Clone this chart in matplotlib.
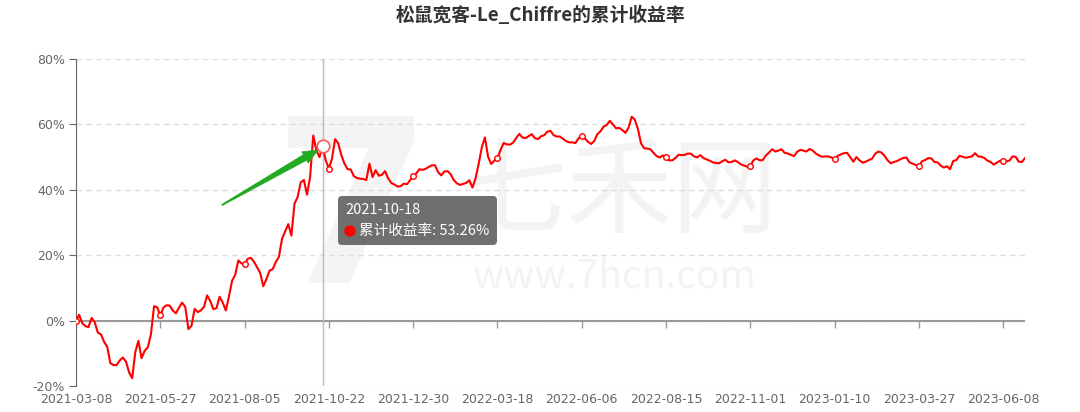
import numpy as np
import matplotlib
matplotlib.use('Agg')
import matplotlib.pyplot as plt
from matplotlib.patches import FancyBboxPatch, Circle, Polygon
from matplotlib.transforms import IdentityTransform

plt.rcParams['font.family'] = ['DejaVu Sans', 'Noto Sans CJK SC']

title = '松鼠宽客-Le_Chiffre的累计收益率'
series_name = '累计收益率'

# cumulative return (%), one reading every 2 trading days from 2021-03-08
step = 2
ret = [
    0, 1.8, -0.8, -1.7, -2.0, 0.8, -0.5, -3.7, -4.2, -6.5,
    -8, -13, -13.6, -13.6, -12.2, -11.3, -12.5, -15.8, -17.6, -9.6,
    -6.2, -11.5, -9.2, -8.2, -4.2, 4.4, 4.1, 1.6, 4.0, 4.7,
    4.6, 3.1, 2.2, 4.0, 5.5, 4.2, -2.6, -1.6, 3.6, 2.6,
    3.1, 4.2, 7.7, 6.0, 3.5, 3.8, 7.3, 5.5, 3.1, 7.4,
    12.2, 14, 18.4,
    17.5, 17.2, 18.9, 19.2, 18, 16.3, 14.6, 10.5, 12.7, 15.3,
    15.7, 17.9, 19.5, 25, 27.3, 29.5, 26, 35.8, 37.8, 42.3,
    43, 38.5, 44, 56.6, 52, 50, 53.26, 49, 46.5, 49.5,
    55.5, 54.2, 50.6, 48, 46.3, 46.2, 44.2, 43.6, 43.4, 43.3,
    43, 48, 43.9, 46, 44.3, 44.6, 45.7, 43.5, 42.1, 41.6,
    41, 41.1, 41.9, 41.7, 42.9, 44.1, 45, 46.3, 46.1, 46.4,
    47,
    47.5, 47.5, 45.4, 44.4, 45.6, 45.7, 44.8, 43, 42, 41.5,
    41.8, 42.1, 42.9, 40.7, 43.5, 48, 53, 56, 50.1, 47.9,
    48.9, 49.6, 52.2, 54.3, 53.9, 53.8, 54.4, 55.8, 57.1, 56,
    55.8, 56.4, 57, 55.8, 55.5, 56.4, 56.7, 57.8, 58, 56.7,
    56.3, 56.3, 55.6, 54.9, 54.5, 54.5, 54.3, 55.8, 56.5, 55.7,
    54.7, 54, 54.9, 57, 57.9,
    59.3, 59.8, 61.1, 60, 58.8, 58.9,
    58.3, 57.4, 59, 62.3, 61.5, 58.6, 54.2, 52.7, 52.6, 52.4,
    51.3, 50.3, 49.9, 50.5, 49.9, 49, 49, 49.7, 50.7, 50.6,
    50.7, 51.1, 51, 50.2, 49.9, 50.6, 49.7, 49.3, 48.9, 48.4,
    48.2, 48.1, 48.7, 49.2, 48.4, 48.5, 49, 48.5, 47.8, 47.4,
    47.1, 47.3, 49, 49.6, 49, 49.1, 50.5, 51.4, 52.4, 51.7,
    52, 52.4, 51.3, 51.1, 50.7, 50.3, 51.6, 52.2, 52, 51.7,
    52.5,
    52, 51.1, 50.5, 50.1, 50.2, 50.2, 49.9, 49.4, 50.4, 50.8,
    51.2, 51.3, 50, 48.6, 50, 49, 48.3, 48.6, 49.1, 49.5,
    51, 51.7, 51.4, 50.4, 49, 48.1, 48.5, 48.8, 49.3, 49.7,
    49.9, 48.4, 48, 47.6, 47.3, 48.7, 49.1, 49.7, 49.6, 48.5,
    48.4, 47.4, 46.8, 47.2, 46.3, 48.8, 49.1, 50.4, 50.1, 49.8,
    50, 50.2, 51.2, 50.2, 50.1, 49.7, 48.9, 48.5, 47.7, 48.3,
    48.9, 48.7, 48.7, 48.9, 50.2, 50.1, 48.6, 48.5, 49.7,
]

date_labels = ['2021-03-08', '2021-05-27', '2021-08-05', '2021-10-22',
               '2021-12-30', '2022-03-18', '2022-06-06', '2022-08-15',
               '2022-11-01', '2023-01-10', '2023-03-27', '2023-06-08']
label_every = 54          # trading days between axis labels
y_ticks = [-20, 0, 20, 40, 60, 80]

tip_date = '2021-10-18'
tip_day = 158
tip_value = 53.26

W, H = 1080, 412
fig = plt.figure(figsize=(W / 100, H / 100), dpi=100)
ax = fig.add_axes([76 / W, 1 - 386 / H, (1025 - 76) / W, (386 - 59) / H])
px = IdentityTransform()

days = np.arange(len(ret)) * step
ret = np.array(ret)
tick_days = np.arange(len(date_labels)) * label_every

# watermark
ax.text(352 / W, 1 - 220 / H, '7', transform=fig.transFigure, fontsize=165,
        fontweight='bold', color='#f4f4f4', ha='center', va='center', zorder=0.5)
ax.text(620 / W, 1 - 195 / H, '七禾网', transform=fig.transFigure, fontsize=76,
        color='#f3f3f3', ha='center', va='center', zorder=0.5,
        family=['Noto Sans CJK SC'])
ax.text(615 / W, 1 - 276 / H, 'www.7hcn.com', transform=fig.transFigure,
        fontsize=28, color='#f3f3f3', ha='center', va='center', zorder=0.5,
        family=['Noto Sans CJK SC'])

ax.set_xlim(0, days[-1])
ax.set_ylim(-20, 80)
ax.set_yticks(y_ticks, [f'{v}%' for v in y_ticks])
ax.set_xticks(tick_days, date_labels)
ax.grid(axis='y', color='#dddddd', ls=(0, (4, 3)), lw=1)
ax.set_axisbelow(True)

for s in ['top', 'right', 'bottom']:
    ax.spines[s].set_visible(False)
ax.spines['left'].set_color('#666666')
ax.tick_params(axis='y', length=5, color='#666666', labelcolor='#666666',
               labelsize=9, pad=3)
ax.tick_params(axis='x', length=0, labelcolor='#666666', labelsize=9, pad=5)

# x axis line sits on zero
ax.axhline(0, color='#999999', lw=1.5, zorder=2)
ax.plot(tick_days, np.zeros(len(tick_days)), ls='none', marker=3, ms=5,
        mew=1, color='#999999', zorder=2)

# axis pointer
ax.axvline(tip_day, color='#bbbbbb', lw=1, zorder=2)

ax.plot(days, ret, color='#ff0000', lw=1.5, zorder=3)
ax.plot(tick_days, ret[tick_days // step], ls='none', marker='o', ms=4,
        mfc='white', mec='#ff0000', mew=1, zorder=4)
ax.plot(tip_day, tip_value, marker='o', ms=9, mfc='white', mec='#ff5a5a',
        mew=1.2, zorder=5)

# hand-drawn arrow: thin tail widening towards the head
tail = np.array([222.0, H - 205])
tip = np.array([318.0, H - 150])
u = (tip - tail) / np.hypot(*(tip - tail))
n = np.array([-u[1], u[0]])
base = tip - 15 * u
arrow_pts = [tail - 0.6 * n, base - 3.2 * n, base - 6.5 * n, tip,
             base + 6.5 * n, base + 3.2 * n, tail + 0.6 * n]
ax.add_patch(Polygon(arrow_pts, closed=True, transform=px, facecolor='#22aa22',
                     edgecolor='#22aa22', lw=0.5, zorder=6))

# tooltip
box = FancyBboxPatch((338, H - 245), 159, 49, boxstyle='round,pad=0,rounding_size=4',
                     transform=px, facecolor='#6f6f6f', edgecolor='none', zorder=7)
ax.add_patch(box)
ax.text(345, H - 210, tip_date, transform=px, color='white', fontsize=10.5,
        ha='left', va='center', zorder=8, family=['Noto Sans CJK SC'])
ax.add_patch(Circle((350, H - 231), 5, transform=px, color='#ff0000', zorder=8))
ax.text(359, H - 231, f'{series_name}: {tip_value:.2f}%', transform=px,
        color='white', fontsize=10.5, ha='left', va='center', zorder=8,
        family=['Noto Sans CJK SC'])

fig.text(0.5, 1 - 15 / H, title, ha='center', va='center', fontsize=13.5,
         fontweight='bold', color='#333333', family=['Noto Sans CJK SC'])

fig.savefig('out.png', dpi=100)
